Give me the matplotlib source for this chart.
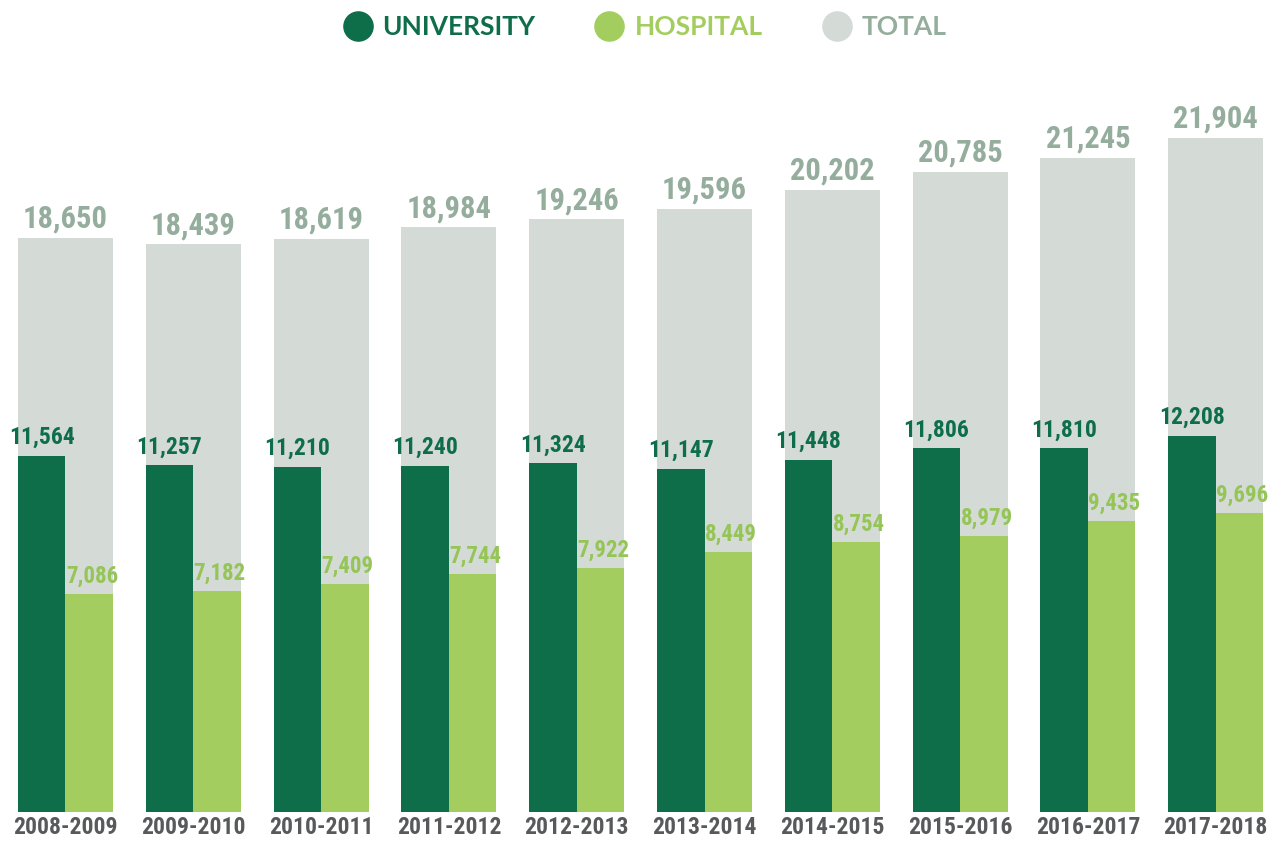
import matplotlib
matplotlib.use("Agg")
import matplotlib.pyplot as plt
from matplotlib import font_manager
from matplotlib.lines import Line2D
import numpy as np

years = ["2008-2009", "2009-2010", "2010-2011", "2011-2012", "2012-2013",
         "2013-2014", "2014-2015", "2015-2016", "2016-2017", "2017-2018"]
university = [11564, 11257, 11210, 11240, 11324, 11147, 11448, 11806, 11810, 12208]
hospital = [7086, 7182, 7409, 7744, 7922, 8449, 8754, 8979, 9435, 9696]
total = [18650, 18439, 18619, 18984, 19246, 19596, 20202, 20785, 21245, 21904]

DARK = "#0E6E4A"
LIGHT = "#A3CE5F"
GRAY = "#D4DAD6"
TOTAL_TXT = "#94AD9C"
YEAR_TXT = "#58595B"

# pick a narrow bold face if one is installed
names = {f.name for f in font_manager.fontManager.ttflist}
FONT = "DejaVu Sans"
for cand in ["Roboto Condensed", "Liberation Sans Narrow", "DejaVu Sans Condensed"]:
    if cand in names:
        FONT = cand
        break
plt.rcParams["font.family"] = FONT
LEG_FONT = "Lato" if "Lato" in names else "DejaVu Sans"

fig = plt.figure(figsize=(12.83, 8.46), dpi=100)
ax = fig.add_axes([0.0012, 0.0402, 0.9962, 0.888])

x = np.arange(len(years))
w = 0.743
ax.bar(x, total, width=w, color=GRAY, zorder=1)
ax.bar(x - w / 4, university, width=w / 2, color=DARK, zorder=2)
ax.bar(x + w / 4, hospital, width=w / 2, color=LIGHT, zorder=2)

ax.set_xlim(-0.5, len(years) - 0.5)
ax.set_ylim(0, 24400)

for i in range(len(years)):
    ax.annotate(f"{total[i]:,}", (x[i], total[i]), xytext=(0, 3), textcoords="offset points",
                ha="center", va="bottom", fontsize=22, fontweight="bold", color=TOTAL_TXT, zorder=3)
    ax.annotate(f"{university[i]:,}", (x[i] - w / 4, university[i]), xytext=(0, 5),
                textcoords="offset points", ha="center", va="bottom", fontsize=17,
                fontweight="bold", color=DARK, zorder=3)
    ax.annotate(f"{hospital[i]:,}", (x[i] + w / 4, hospital[i]), xytext=(2, 4.5),
                textcoords="offset points", ha="center", va="bottom", fontsize=16.5,
                fontweight="bold", color="#95C556", zorder=3)

ax.set_xticks(x)
ax.set_xticklabels(years, fontsize=17, fontweight="bold", color=YEAR_TXT)
ax.tick_params(axis="x", length=0, pad=3)
ax.set_yticks([])
for s in ax.spines.values():
    s.set_visible(False)

handles = [Line2D([], [], marker="o", linestyle="none", markersize=21, markerfacecolor=c, markeredgecolor=c)
           for c in [DARK, LIGHT, GRAY]]
leg = fig.legend(handles, ["UNIVERSITY", "HOSPITAL", "TOTAL"], loc="upper center",
                 bbox_to_anchor=(0.5, 1.01), ncol=3, frameon=False, handletextpad=0.15,
                 handlelength=1.6, columnspacing=2.0,
                 prop={"family": LEG_FONT, "size": 19, "weight": "bold"})
for t, c in zip(leg.get_texts(), [DARK, LIGHT, TOTAL_TXT]):
    t.set_color(c)

fig.savefig("out.png", dpi=100)
